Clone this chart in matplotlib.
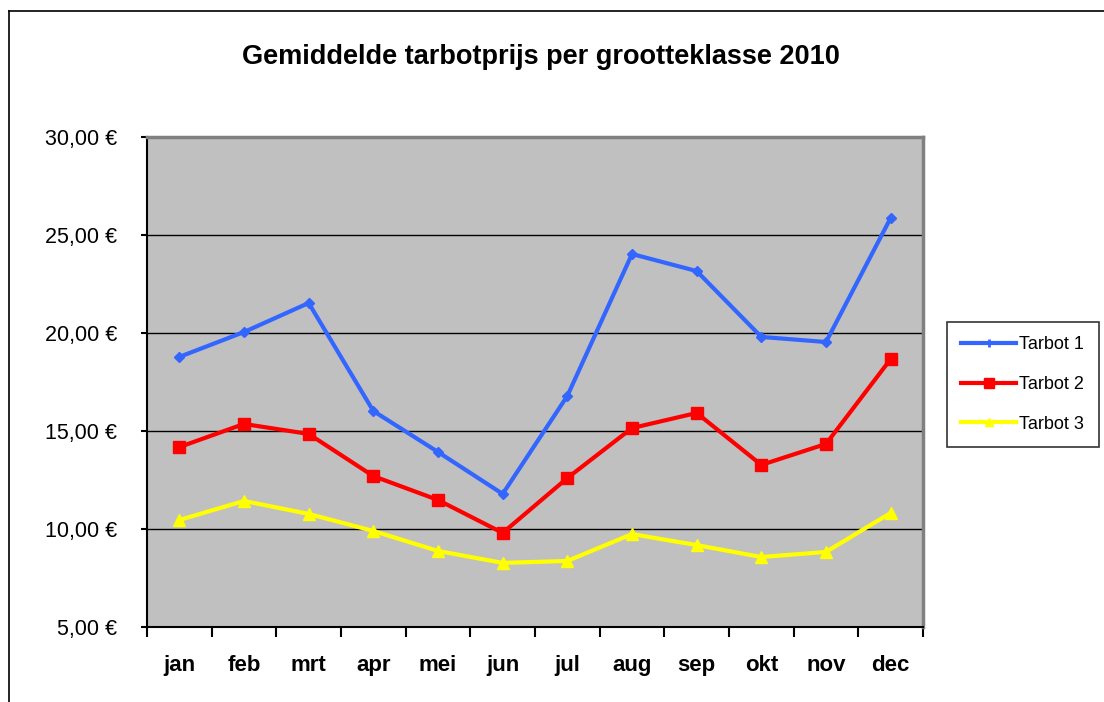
import numpy as np
import matplotlib
matplotlib.use("Agg")
import matplotlib.pyplot as plt
from matplotlib.lines import Line2D

plt.rcParams['font.family'] = ['Liberation Sans', 'DejaVu Sans']

months = ['jan', 'feb', 'mrt', 'apr', 'mei', 'jun', 'jul', 'aug', 'sep', 'okt', 'nov', 'dec']
tarbot1 = [18.78, 20.05, 21.53, 16.02, 13.93, 11.79, 16.79, 24.03, 23.16, 19.80, 19.54, 25.87]
tarbot2 = [14.18, 15.36, 14.85, 12.70, 11.48, 9.80, 12.60, 15.15, 15.92, 13.27, 14.34, 18.67]
tarbot3 = [10.46, 11.43, 10.77, 9.90, 8.88, 8.27, 8.37, 9.74, 9.18, 8.57, 8.83, 10.82]
yticks = [5, 10, 15, 20, 25, 30]

fig = plt.figure(figsize=(11.04, 7.02), dpi=100)
ax = fig.add_axes([147/1104, 75/702, 776/1104, 490/702])
ax.set_facecolor('#C0C0C0')

x = np.arange(len(months))
ax.plot(x, tarbot1, color='#3366FF', lw=3, marker='D', ms=5, label='Tarbot 1', zorder=5)
ax.plot(x, tarbot2, color='#FF0000', lw=3, marker='s', ms=8, label='Tarbot 2', zorder=5)
ax.plot(x, tarbot3, color='#FFFF00', lw=3, marker='^', ms=8, label='Tarbot 3', zorder=5)

ax.set_xlim(-0.5, 11.5)
ax.set_ylim(5, 30)
ax.set_yticks(yticks)
ax.set_yticklabels(['%d,00 €' % v for v in yticks], fontsize=15.5)
ax.yaxis.grid(True, color='black', lw=1)
ax.set_axisbelow(True)

ax.set_xticks(np.arange(-0.5, 12, 1))
ax.set_xticklabels([])
ax.set_xticks(x, minor=True)
ax.set_xticklabels(months, minor=True, fontsize=16, fontweight='bold')
ax.tick_params(axis='x', which='major', direction='out', length=7, width=1.5, color='black')
ax.tick_params(axis='x', which='minor', length=0, pad=20)
ax.tick_params(axis='y', direction='out', length=4.5, width=1.5, pad=17)

for side in ['top', 'right']:
    ax.spines[side].set_color('#808080')
    ax.spines[side].set_linewidth(2.5)
ax.spines['bottom'].set_color('black')
ax.spines['bottom'].set_linewidth(1.5)
ax.spines['left'].set_color('black')
ax.spines['left'].set_linewidth(1.5)

fig.text(541/1104, 1 - 57/702, 'Gemiddelde tarbotprijs per grootteklasse 2010',
         ha='center', va='center', fontsize=19.5, fontweight='bold')

handles = [Line2D([], [], color='#3366FF', lw=3, marker='|', ms=6, mew=2),
           Line2D([], [], color='#FF0000', lw=3, marker='s', ms=7),
           Line2D([], [], color='#FFFF00', lw=3, marker='^', ms=6)]
leg = fig.legend(handles, ['Tarbot 1', 'Tarbot 2', 'Tarbot 3'],
                 loc='upper left', bbox_to_anchor=(947/1104, 1 - 322/702),
                 fontsize=13, frameon=True, fancybox=False, edgecolor='black',
                 handlelength=3.0, handletextpad=0.2, labelspacing=1.25,
                 borderpad=0.8, borderaxespad=0)
leg.get_frame().set_linewidth(1.2)

# outer chart border (left and top only visible)
fig.add_artist(Line2D([9/1104, 9/1104], [0, 1 - 11/702], color='black', lw=1.2, transform=fig.transFigure))
fig.add_artist(Line2D([9/1104, 1], [1 - 11/702, 1 - 11/702], color='black', lw=1.2, transform=fig.transFigure))

fig.savefig('out.png', dpi=100)
